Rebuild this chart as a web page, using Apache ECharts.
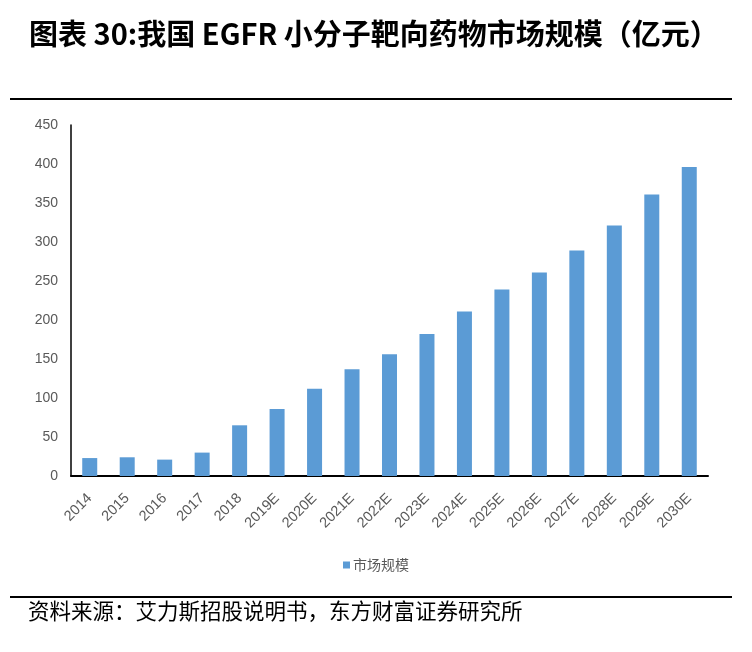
<!DOCTYPE html>
<html lang="zh">
<head>
    <meta charset="UTF-8">
    <title>EGFR</title>
    <style>
        html, body { margin: 0; padding: 0; background: #fff; }
        #main { width: 752px; height: 652px; }
    </style>
    <script src="https://cdn.jsdelivr.net/npm/echarts@6/dist/echarts.min.js"></script>
</head>
<body>
<div id="main"></div>
<script>
    // 数据
    var years = ['2014', '2015', '2016', '2017', '2018', '2019E', '2020E', '2021E', '2022E',
        '2023E', '2024E', '2025E', '2026E', '2027E', '2028E', '2029E', '2030E'];
    var marketSize = [23, 24, 21, 30, 65, 86, 112, 137, 156, 182, 211, 239, 261, 289, 321, 361, 396];
    var seriesName = '市场规模';
    var titleText = '图表 30:我国 EGFR 小分子靶向药物市场规模（亿元）';
    var sourceText = '资料来源：艾力斯招股说明书，东方财富证券研究所';

    var chart = echarts.init(document.getElementById('main'));
    var cjk = '"Noto Sans CJK SC", sans-serif';
    var latin = '"Liberation Sans", Arial, sans-serif';

    var option = {
        animation: false,
        backgroundColor: '#fff',
        title: {
            text: titleText,
            left: 24,
            top: 14,
            textStyle: {
                fontFamily: cjk,
                fontSize: 29,
                fontWeight: 'bold',
                color: '#000'
            }
        },
        graphic: [
            {
                type: 'line',
                shape: {x1: 10, y1: 99, x2: 732, y2: 99},
                style: {stroke: '#000', lineWidth: 2}
            },
            {
                type: 'line',
                shape: {x1: 10, y1: 597, x2: 732, y2: 597},
                style: {stroke: '#000', lineWidth: 2}
            },
            {
                type: 'text',
                left: 28,
                top: 600,
                style: {
                    text: sourceText,
                    font: '21.5px "Noto Sans CJK SC", sans-serif',
                    fill: '#000'
                }
            }
        ],
        legend: {
            data: [seriesName],
            top: 553,
            left: 'center',
            icon: 'rect',
            itemWidth: 7,
            itemHeight: 7,
            itemGap: 4,
            textStyle: {fontFamily: cjk, fontSize: 14, color: '#595959', padding: [0, 0, 0, -2]}
        },
        grid: {left: 71, right: 44, top: 125, bottom: 176},
        xAxis: {
            type: 'category',
            data: years,
            axisLine: {lineStyle: {color: '#000', width: 2}},
            axisTick: {show: false},
            axisLabel: {
                rotate: 45,
                margin: 20,
                fontFamily: latin,
                fontSize: 14.5,
                color: '#595959',
                interval: 0
            }
        },
        yAxis: {
            type: 'value',
            min: 0,
            max: 450,
            interval: 50,
            axisLine: {show: true, lineStyle: {color: '#000', width: 1.5}},
            axisTick: {show: false},
            splitLine: {show: false},
            axisLabel: {
                margin: 13,
                fontFamily: latin,
                fontSize: 14,
                color: '#595959'
            }
        },
        series: [{
            name: seriesName,
            type: 'bar',
            data: marketSize,
            barWidth: 15,
            itemStyle: {color: '#5B9BD5'}
        }]
    };
    chart.setOption(option);
</script>
</body>
</html>
